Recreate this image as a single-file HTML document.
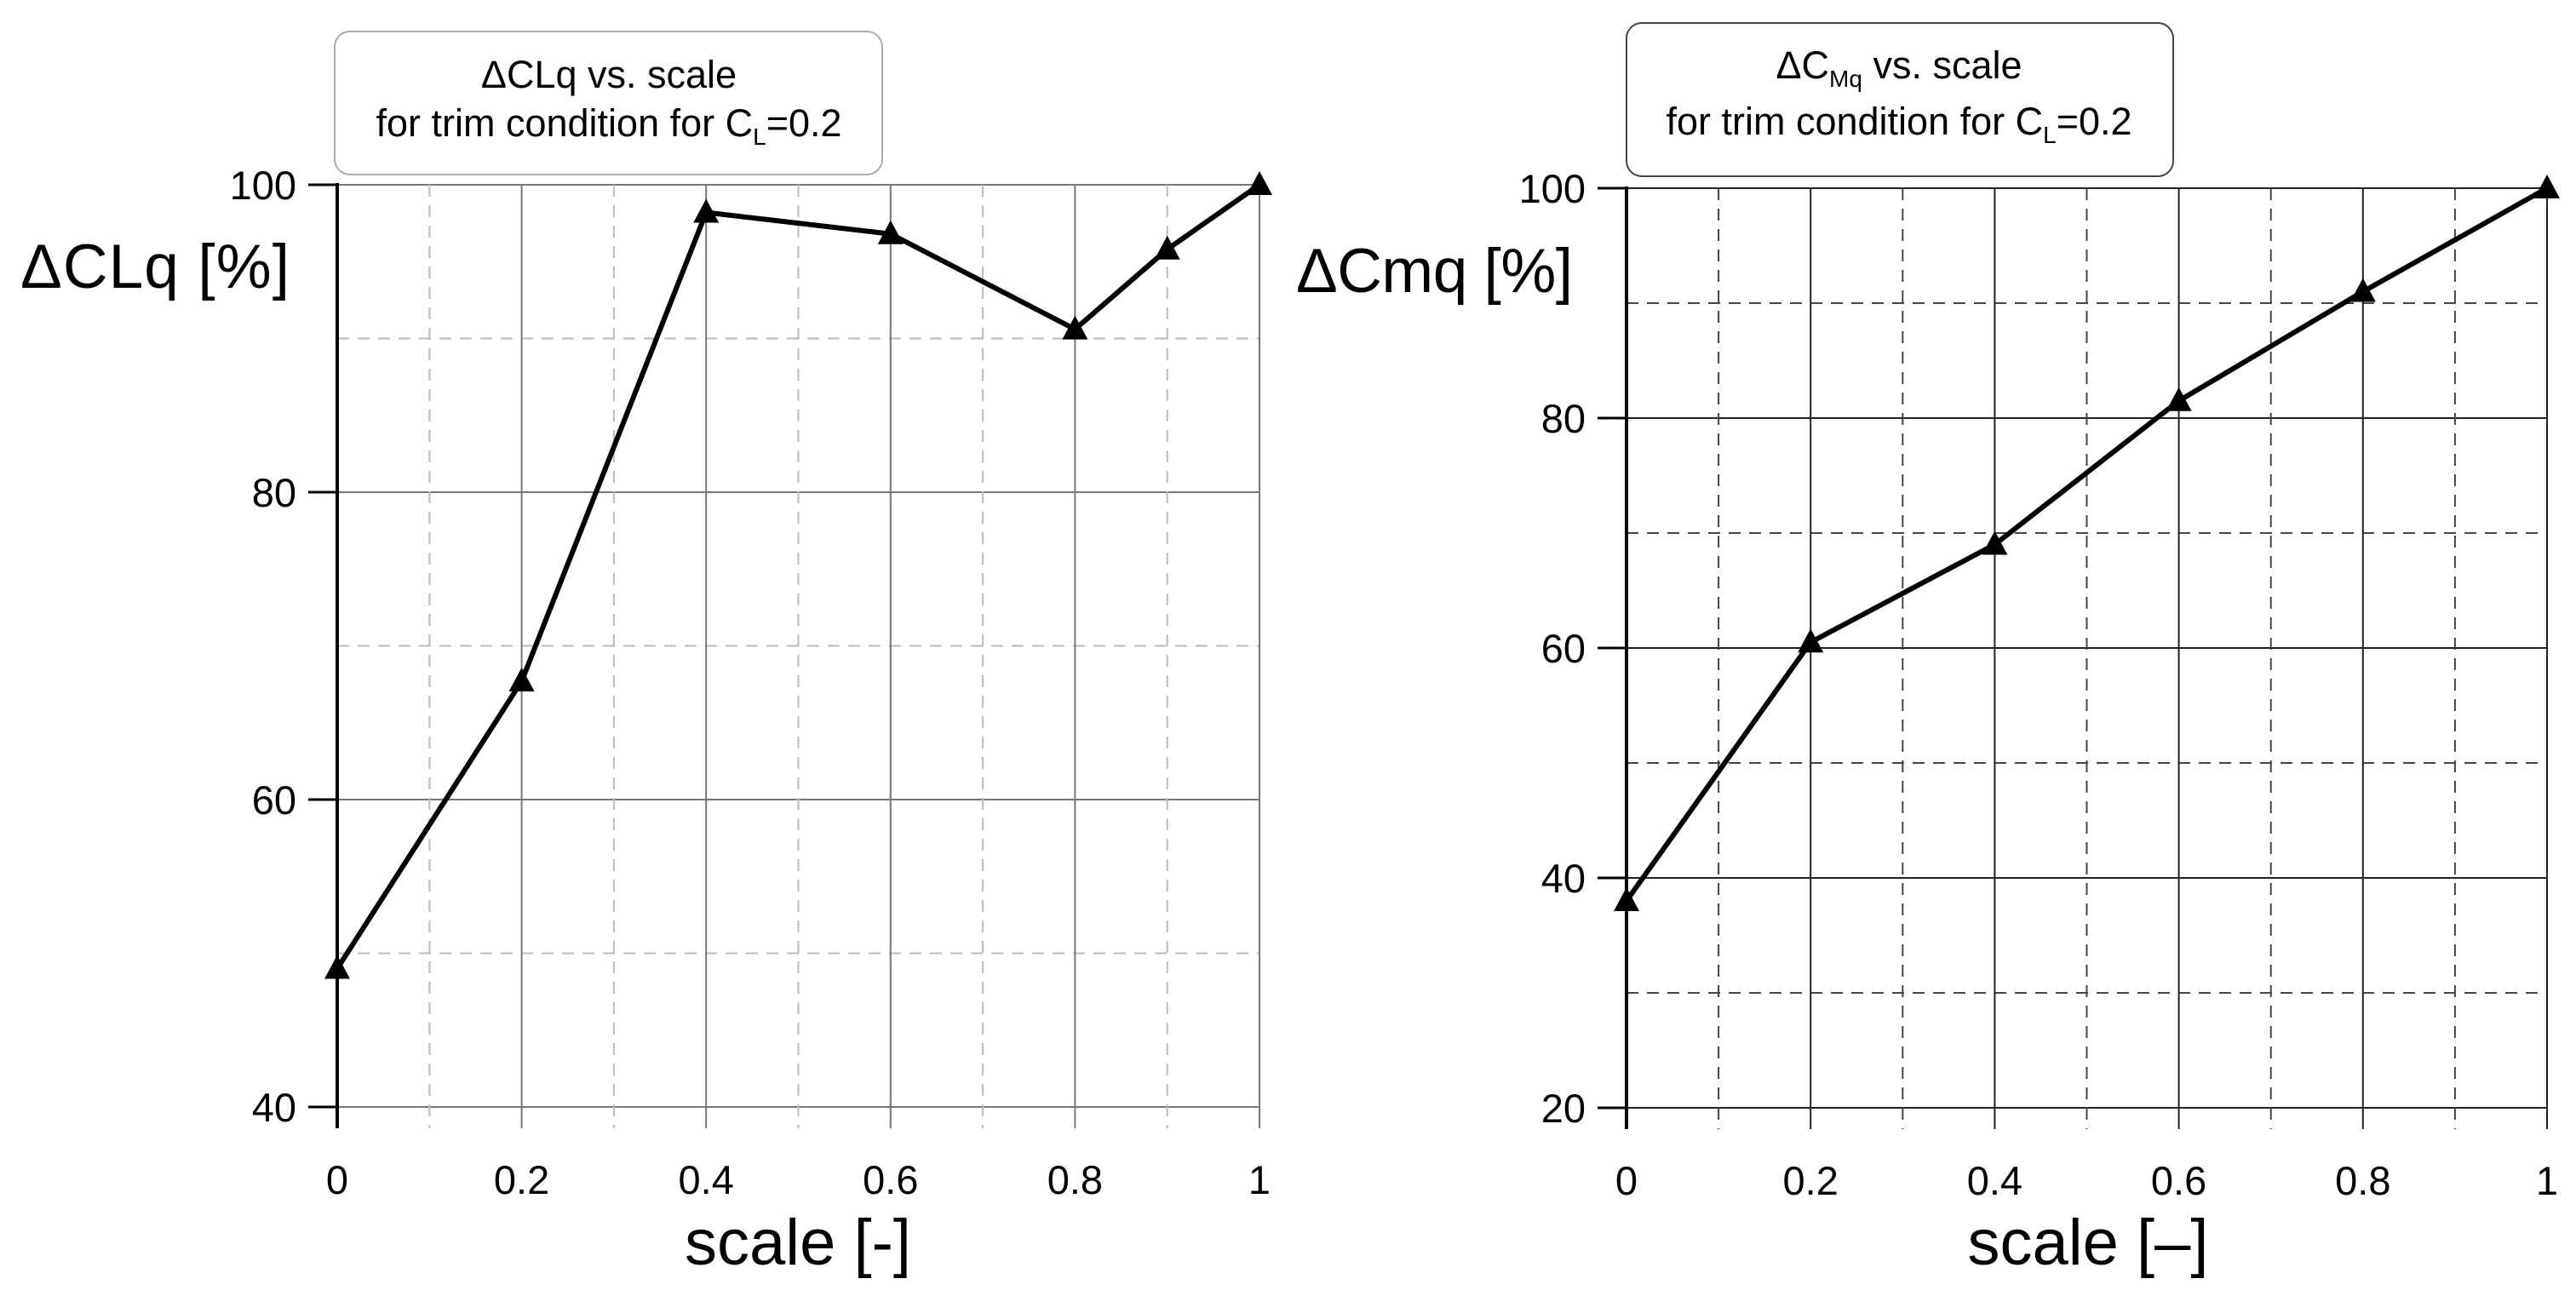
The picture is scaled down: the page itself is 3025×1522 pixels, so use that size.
<!DOCTYPE html>
<html><head><meta charset="utf-8"><style>
html,body{margin:0;padding:0;background:#fff;}
svg{display:block;font-family:"Liberation Sans",sans-serif;}
</style></head><body>
<svg id="root" width="3025" height="1522" viewBox="0 0 3025 1522" xmlns="http://www.w3.org/2000/svg">
<g id="c1"></g>
<g id="c2"></g>
</svg>
<script>
const clqScale = [0, 0.2, 0.4, 0.6, 0.8, 0.9, 1];
const clqValues = [49, 67.7, 98.2, 96.8, 90.6, 95.8, 100];
const clqYTicks = [40, 60, 80, 100];
const cmqScale = [0, 0.2, 0.4, 0.6, 0.8, 1];
const cmqValues = [38, 60.5, 69, 81.5, 91, 100];
const cmqYTicks = [20, 40, 60, 80, 100];
const xMinorTicks = [0.1, 0.3, 0.5, 0.7, 0.9];
const xMajorTicks = [0, 0.2, 0.4, 0.6, 0.8, 1];

const NS = "http://www.w3.org/2000/svg";
function mk(parent, tag, attrs, text){
  const e = document.createElementNS(NS, tag);
  for (const k in attrs) e.setAttribute(k, attrs[k]);
  if (text !== undefined) e.textContent = text;
  parent.appendChild(e); return e;
}

function drawChart(g, cfg){
  const X = v => cfg.x0 + (cfg.x1 - cfg.x0) * v;
  const Y = v => cfg.yb + (cfg.yt - cfg.yb) * (v - cfg.ymin) / (cfg.ymax - cfg.ymin);
  const gc = cfg.gridColor;
  for (let v = cfg.ymin; v <= cfg.ymax; v += 10) {
    const major = (v - cfg.ymin) % 20 === 0;
    const l = mk(g, 'line', {x1: X(0), x2: X(1), y1: Y(v), y2: Y(v), stroke: major ? cfg.majorGrid : gc, 'stroke-width': 2, 'stroke-dasharray': major ? '' : '14 10'});
    
    
  }
  cfg.yTicks.forEach(v => {
    const t = mk(g, 'line', {x1: X(0) - 34, x2: X(0), y1: Y(v), y2: Y(v), stroke: '#000', 'stroke-width': 3});
    
    
    const lb = mk(g, 'text', {x: X(0) - 48, y: Y(v) + 17, 'font-size': 47, 'text-anchor': 'end', fill: '#000'}, String(v));
    
    
  });
  xMinorTicks.forEach(v => {
    const l = mk(g, 'line', {x1: X(v), x2: X(v), y1: Y(cfg.ymax), y2: Y(cfg.ymin) + 25, stroke: gc, 'stroke-width': 2, 'stroke-dasharray': '14 10'});
    
    
  });
  xMajorTicks.forEach(v => {
    const l = mk(g, 'line', {x1: X(v), x2: X(v), y1: Y(cfg.ymax), y2: Y(cfg.ymin) + 25, stroke: cfg.majorGrid, 'stroke-width': 2});
    
    
  });
  xMajorTicks.forEach(v => {
    const lb = mk(g, 'text', {x: X(v), y: Y(cfg.ymin) + 102, 'font-size': 47, 'text-anchor': 'middle', fill: '#000'}, String(v));
    
    
  });
  const ax = mk(g, 'line', {x1: X(0), x2: X(0), y1: Y(cfg.ymax) - 2, y2: Y(cfg.ymin) + 25, stroke: '#000', 'stroke-width': 4});
  
  
  const pts = cfg.xs.map((x, i) => X(x) + ',' + Y(cfg.ys[i])).join(' ');
  const pl = mk(g, 'polyline', {points: pts, fill: 'none', stroke: '#000', 'stroke-width': 6, 'stroke-linejoin': 'round'});
  
  
  cfg.xs.forEach((x, i) => {
    const cx = X(x), cy = Y(cfg.ys[i]);
    const tr = mk(g, 'polygon', {points: `${cx-15},${cy+12} ${cx+15},${cy+12} ${cx},${cy-16}`, fill: '#000'});
    
    
  });
}

drawChart(document.getElementById('c1'), {x0: 396, x1: 1479, yt: 217, yb: 1300, ymin: 40, ymax: 100, yTicks: clqYTicks, xs: clqScale, ys: clqValues, gridColor: '#bbb', majorGrid: '#777'});
drawChart(document.getElementById('c2'), {x0: 1910, x1: 2991, yt: 221, yb: 1301, ymin: 20, ymax: 100, yTicks: cmqYTicks, xs: cmqScale, ys: cmqValues, gridColor: '#444', majorGrid: '#222'});
</script>
<svg style="position:absolute;left:0;top:0" width="3025" height="1522" xmlns="http://www.w3.org/2000/svg" font-family="Liberation Sans, sans-serif">
<rect x="393" y="37" width="643" height="168" rx="18" fill="#fff" stroke="#aaa" stroke-width="2"/>
<text x="715" y="103" font-size="45" text-anchor="middle">ΔCLq vs. scale</text>
<text x="715" y="160" font-size="45" text-anchor="middle">for trim condition for C<tspan font-size="28" dy="10">L</tspan><tspan dy="-10">=0.2</tspan></text>
<text x="24" y="338" font-size="73" textLength="316">ΔCLq [%]</text>
<text x="937" y="1485" font-size="76" text-anchor="middle">scale [-]</text>
<rect x="1910" y="27" width="642" height="180" rx="18" fill="#fff" stroke="#444" stroke-width="2"/>
<text x="2230" y="92" font-size="45" text-anchor="middle">ΔC<tspan font-size="28" dy="10">Mq</tspan><tspan dy="-10"> vs. scale</tspan></text>
<text x="2230" y="158" font-size="45" text-anchor="middle">for trim condition for C<tspan font-size="28" dy="10">L</tspan><tspan dy="-10">=0.2</tspan></text>
<text x="1522" y="343" font-size="73" textLength="325">ΔCmq [%]</text>
<text x="2452" y="1485" font-size="76" text-anchor="middle">scale [–]</text>
</svg>
</body></html>
